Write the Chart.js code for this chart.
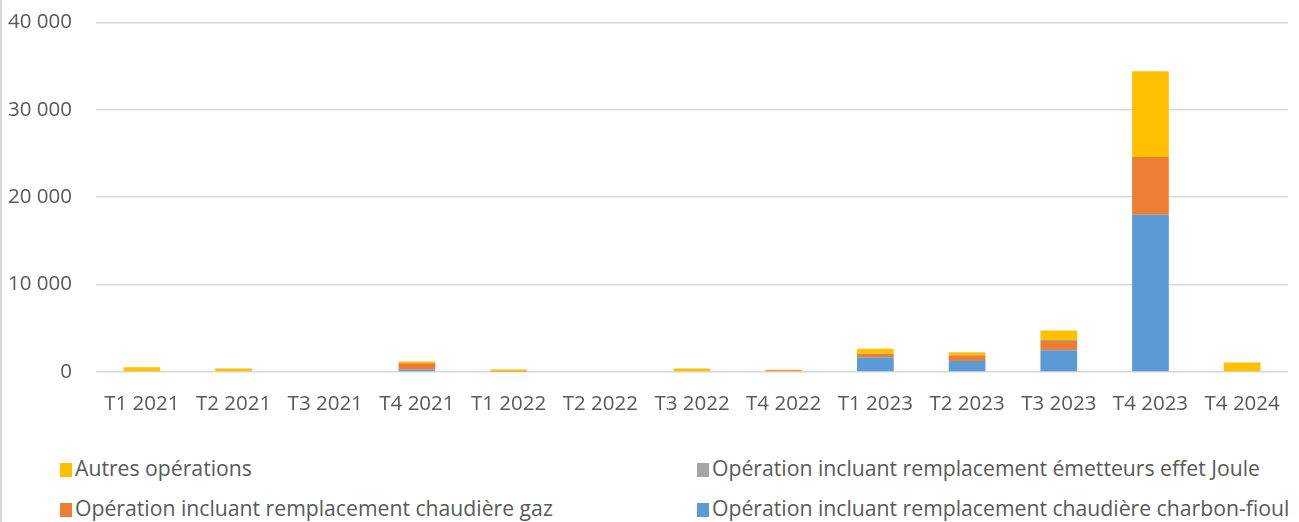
<!DOCTYPE html>
<html>
<head>
<meta charset="utf-8">
<script src="https://cdn.jsdelivr.net/npm/chart.js@4.4.0/dist/chart.umd.min.js"></script>
<style>
  body { margin: 0; background: #fff; font-family: "Open Sans", sans-serif; overflow: hidden; }
  #wrap { position: relative; width: 1299px; height: 522px; border-left: 2px solid #d9d9d9; box-sizing: border-box; overflow: hidden; }
  #box { position: absolute; left: 0; top: -14px; width: 1297px; height: 454px; }
  #legend { position: absolute; left: 0; top: 453px; width: 1297px; }
  .item { position: absolute; font-size: 21.2px; color: #595959; white-space: nowrap; line-height: 30px; }
  .item span.sw { display: inline-block; width: 12px; height: 14px; margin-right: 3px; vertical-align: -1px; }
</style>
</head>
<body>
<div id="wrap">
  <div id="box"><canvas id="chart"></canvas></div>
  <div id="legend"></div>
</div>
<script>
// trimestres
const categories = ["T1 2021", "T2 2021", "T3 2021", "T4 2021", "T1 2022", "T2 2022", "T3 2022",
                    "T4 2022", "T1 2023", "T2 2023", "T3 2023", "T4 2023", "T4 2024"];
const charbonFioul = [0, 0, 0, 250, 0, 0, 0, 0, 1650, 1250, 2500, 18000, 0];
const gaz = [0, 0, 0, 750, 50, 0, 0, 200, 400, 650, 1050, 6600, 0];
const joule = [0, 0, 0, 0, 50, 0, 0, 0, 50, 50, 100, 0, 0];
const autres = [550, 400, 0, 200, 200, 0, 400, 50, 550, 300, 1100, 9800, 1100];
const yTicks = [0, 10000, 20000, 30000, 40000];

const txt = "#595959";

let chart = new Chart(document.getElementById("chart"), {
    type: 'bar',
    data: {
        labels: categories,
        datasets: [
            { label: "Opération incluant remplacement chaudière charbon-fioul", data: charbonFioul, backgroundColor: "#5B9BD5" },
            { label: "Opération incluant remplacement chaudière gaz", data: gaz, backgroundColor: "#ED7D31" },
            { label: "Opération incluant remplacement émetteurs effet Joule", data: joule, backgroundColor: "#A5A5A5" },
            { label: "Autres opérations", data: autres, backgroundColor: "#FFC000" }
        ]
    },
    options: {
        responsive: true,
        maintainAspectRatio: false,
        animation: false,
        layout: { padding: { top: 0, right: 11, left: 0, bottom: 0 } },
        plugins: { legend: { display: false }, tooltip: { enabled: false } },
        datasets: { bar: { categoryPercentage: 1, barPercentage: 0.4 } },
        scales: {
            x: {
                stacked: true,
                grid: { display: false },
                border: { display: false },
                ticks: { color: txt, font: { family: "Open Sans", size: 20.5 }, padding: 12, maxRotation: 0, autoSkip: false },
                afterFit: function (s) { s.height = 68; }
            },
            y: {
                stacked: true,
                min: 0, max: 40000,
                afterBuildTicks: function (s) { s.ticks = yTicks.map(v => ({ value: v })); },
                grid: { color: "#d9d9d9", lineWidth: 1.5, drawTicks: false },
                border: { display: false },
                ticks: {
                    color: txt, font: { family: "Open Sans", size: 20.5 }, padding: 24,
                    callback: function (v) { return String(v).replace(/\B(?=(\d{3})+(?!\d))/g, " "); }
                },
                afterFit: function (s) { s.width = 94; }
            }
        }
    }
});

// legende sur deux colonnes
const order = [3, 2, 1, 0];
const pos = [[58, 0], [695, 0], [58, 40], [695, 40]];
const leg = document.getElementById("legend");
order.forEach(function (i, k) {
    let ds = chart.data.datasets[i];
    let d = document.createElement("div");
    d.className = "item";
    d.style.left = pos[k][0] + "px";
    d.style.top = pos[k][1] + "px";
    d.innerHTML = '<span class="sw" style="background:' + ds.backgroundColor + '"></span>' + ds.label;
    leg.appendChild(d);
});
</script>
</body>
</html>
